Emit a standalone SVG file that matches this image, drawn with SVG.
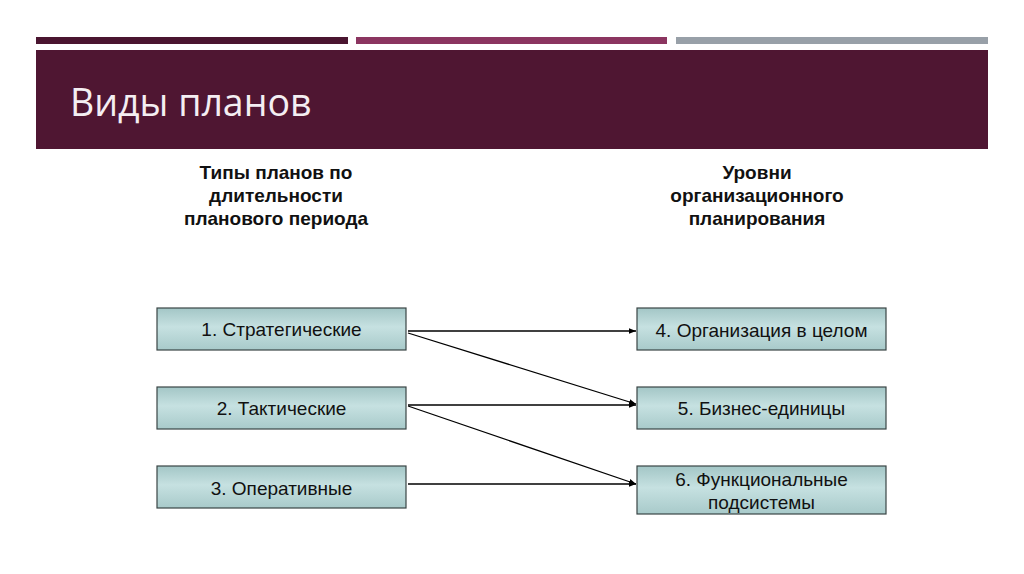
<svg xmlns="http://www.w3.org/2000/svg" width="1024" height="574" viewBox="0 0 1024 574">
<style>
.box{stroke:#3a4545;stroke-width:1.2;fill:url(#g)}
.bt{font-family:"Liberation Sans",Arial,sans-serif;font-size:19px;fill:#111;text-anchor:middle}
.hd{font-family:"Liberation Sans",Arial,sans-serif;font-size:19px;font-weight:bold;fill:#111;text-anchor:middle}
.cn{stroke:#000;stroke-width:1.3;fill:none;marker-end:url(#ar)}
</style>
<defs>
<linearGradient id="g" x1="0" y1="0" x2="0" y2="1">
<stop offset="0" stop-color="#a3c6c6"/>
<stop offset="0.45" stop-color="#c6e1e1"/>
<stop offset="1" stop-color="#a8caca"/>
</linearGradient>
<marker id="ar" viewBox="0 0 10 10" refX="10" refY="5" markerWidth="7" markerHeight="7" markerUnits="userSpaceOnUse" orient="auto">
<path d="M0,1 L10,5 L0,9 z" fill="#000"/>
</marker>
</defs>
<rect width="1024" height="574" fill="#fff"/>
<rect x="36" y="37" width="312" height="7" fill="#4a1530"/>
<rect x="356" y="37" width="311" height="7" fill="#8b3560"/>
<rect x="676" y="37" width="312" height="7" fill="#98a0a8"/>
<rect x="36" y="50" width="952" height="99" fill="#4f1632"/>
<text x="70" y="116" font-family="Open Sans, sans-serif" font-size="37.5" fill="#f4eef2">Виды планов</text>
<g id="head-left">
<text class="hd" x="276" y="179">Типы планов по</text>
<text class="hd" x="276" y="202">длительности</text>
<text class="hd" x="276" y="225">планового периода</text>
</g>
<g id="head-right">
<text class="hd" x="757" y="179">Уровни</text>
<text class="hd" x="757" y="202">организационного</text>
<text class="hd" x="757" y="225">планирования</text>
</g>
<g id="n1"><rect class="box" x="157" y="308" width="249" height="42"/><text class="bt" x="281.5" y="336">1. Стратегические</text></g>
<g id="n2"><rect class="box" x="157" y="387" width="249" height="42"/><text class="bt" x="281.5" y="415">2. Тактические</text></g>
<g id="n3"><rect class="box" x="157" y="466" width="249" height="42"/><text class="bt" x="281.5" y="495">3. Оперативные</text></g>
<g id="n4"><rect class="box" x="637" y="308" width="249" height="42"/><text class="bt" x="761.5" y="337">4. Организация в целом</text></g>
<g id="n5"><rect class="box" x="637" y="387" width="249" height="42"/><text class="bt" x="761.5" y="415">5. Бизнес-единицы</text></g>
<g id="n6"><rect class="box" x="637" y="466" width="249" height="48"/><text class="bt" x="761.5" y="486">6. Функциональные</text><text class="bt" x="761.5" y="509">подсистемы</text></g>
<g id="connectors">
<line class="cn" x1="408" y1="331" x2="636" y2="331"/>
<line class="cn" x1="408" y1="333" x2="636" y2="404"/>
<line class="cn" x1="408" y1="405" x2="636" y2="405"/>
<line class="cn" x1="408" y1="406" x2="636" y2="484"/>
<line class="cn" x1="408" y1="484" x2="636" y2="484"/>
</g>
</svg>
